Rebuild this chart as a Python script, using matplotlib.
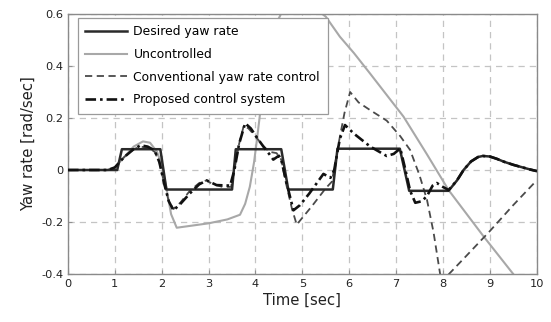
import matplotlib
matplotlib.use("Agg")
import matplotlib.pyplot as plt

# --- datos ---
t_des = [0, 1.05, 1.15, 1.97, 2.1, 3.5, 3.58, 4.55, 4.7, 5.65, 5.75, 7.08, 7.28,
         8.12, 8.3, 8.44, 8.6, 8.75, 8.85, 9.0, 9.15, 9.3, 9.5, 9.7, 9.86, 10.0]
y_des = [0, 0, 0.08, 0.08, -0.075, -0.075, 0.08, 0.08, -0.075, -0.075, 0.082, 0.082, -0.08,
         -0.08, -0.04, 0.0, 0.033, 0.05, 0.054, 0.052, 0.043, 0.032, 0.02, 0.01, 0.002, -0.004]

t_unc = [0, 0.85, 1.0, 1.2, 1.4, 1.6, 1.75, 1.9, 2.0, 2.1, 2.2, 2.32, 2.6, 3.0, 3.4, 3.67,
         3.78, 3.88, 3.97, 4.03, 4.1, 4.2, 4.35, 4.6, 4.9, 5.2, 5.5, 5.8, 6.1, 6.45,
         7.16, 7.66, 8.12, 8.87, 9.5, 9.7]
y_unc = [0, 0, 0.01, 0.05, 0.09, 0.11, 0.105, 0.07, 0.02, -0.07, -0.17, -0.222, -0.215, -0.205,
         -0.19, -0.172, -0.13, -0.064, 0.03, 0.115, 0.22, 0.38, 0.53, 0.62, 0.645, 0.63,
         0.59, 0.513, 0.45, 0.37, 0.205, 0.06, -0.077, -0.256, -0.4, -0.45]

t_conv = [0, 0.85, 1.0, 1.2, 1.4, 1.55, 1.7, 1.85, 1.95, 2.05, 2.15, 2.25, 2.4, 2.6, 2.8,
          2.95, 3.1, 3.3, 3.48, 3.55, 3.65, 3.75, 3.85, 4.0, 4.15, 4.3, 4.45, 4.55, 4.65,
          4.78, 4.88, 5.2, 5.5, 5.63, 5.75, 5.9, 6.02, 6.2, 6.45, 6.8, 7.09, 7.3, 7.5,
          7.66, 7.8, 7.94, 7.97, 8.5, 9.0, 9.5, 10.0]
y_conv = [0, 0, 0.01, 0.05, 0.08, 0.09, 0.085, 0.07, 0.03, -0.05, -0.12, -0.15, -0.125, -0.08,
          -0.05, -0.04, -0.055, -0.065, -0.065, 0.0, 0.1, 0.17, 0.16, 0.13, 0.095, 0.07,
          0.065, 0.04, -0.05, -0.15, -0.21, -0.14, -0.07, -0.045, 0.08, 0.22, 0.3, 0.26,
          0.23, 0.19, 0.13, 0.077, -0.02, -0.115, -0.24, -0.4, -0.43, -0.33, -0.235,
          -0.135, -0.04]

t_prop = [0, 0.85, 1.0, 1.2, 1.4, 1.55, 1.7, 1.85, 1.95, 2.05, 2.15, 2.25, 2.4, 2.6, 2.8,
          2.96, 3.17, 3.46, 3.55, 3.65, 3.78, 3.9, 4.05, 4.17, 4.3, 4.38, 4.5, 4.55, 4.65,
          4.81, 4.95, 5.15, 5.35, 5.45, 5.6, 5.68, 5.8, 5.91, 6.1, 6.45, 6.8, 6.95, 7.09,
          7.2, 7.3, 7.41, 7.55, 7.66, 7.78, 7.87, 8.0, 8.12, 8.3, 8.44, 8.6, 8.75, 8.85,
          9.0, 9.15, 9.3, 9.5, 9.7, 9.86, 10.0]
y_prop = [0, 0, 0.01, 0.05, 0.08, 0.095, 0.09, 0.075, 0.03, -0.05, -0.12, -0.155, -0.13,
          -0.09, -0.055, -0.04, -0.058, -0.06, 0.0, 0.1, 0.18, 0.16, 0.12, 0.09, 0.06, 0.04,
          0.055, 0.04, -0.04, -0.155, -0.135, -0.09, -0.04, -0.015, -0.03, 0.0, 0.12, 0.173,
          0.14, 0.09, 0.054, 0.062, 0.083, 0.0, -0.08, -0.126, -0.12, -0.1, -0.06, -0.05,
          -0.065, -0.077, -0.04, 0.0, 0.033, 0.05, 0.054, 0.052, 0.043, 0.032, 0.02, 0.01,
          0.002, -0.004]

series = ["Desired yaw rate", "Uncontrolled", "Conventional yaw rate control",
          "Proposed control system"]
x_ticks = list(range(0, 11))
y_ticks = [-0.4, -0.2, 0, 0.2, 0.4, 0.6]
y_ticklabels = ["-0.4", "-0.2", "0", "0.2", "0.4", "0.6"]

# --- figura ---
fig = plt.figure(figsize=(5.51, 3.22), dpi=100)
ax = fig.add_axes([0.1234, 0.149, 0.8506, 0.8075])

ax.plot(t_des, y_des, color="#2a2a2a", lw=1.8, ls="-", label=series[0], zorder=3)
ax.plot(t_unc, y_unc, color="#a8a8a8", lw=1.5, ls="-", label=series[1], zorder=2)
ax.plot(t_conv, y_conv, color="#4a4a4a", lw=1.3, ls=(0, (4, 2.5)), label=series[2], zorder=2)
ax.plot(t_prop, y_prop, color="#111111", lw=1.9, ls=(0, (4, 1.5, 1, 1.5)), label=series[3], zorder=4)

ax.set_xlim(0, 10)
ax.set_ylim(-0.4, 0.6)
ax.set_xticks(x_ticks)
ax.set_yticks(y_ticks)
ax.set_yticklabels(y_ticklabels)
ax.grid(True, color="#c4c4c4", ls=(0, (5, 4)), lw=0.9)
ax.tick_params(direction="in", length=3, color="#909090", labelsize=8.2, labelcolor="#222222")
for s in ax.spines.values():
    s.set_color("#8a8a8a")
    s.set_linewidth(1.0)

ax.set_xlabel("Time [sec]", fontsize=10.7, color="#222222", labelpad=3)
ax.set_ylabel("Yaw rate [rad/sec]", fontsize=10.7, color="#222222", labelpad=4)

leg = ax.legend(loc="upper left", bbox_to_anchor=(0.021, 0.985), borderaxespad=0,
                fontsize=8.9, handlelength=3.4, labelspacing=0.78, borderpad=0.6,
                handletextpad=0.5, fancybox=False, framealpha=1.0, edgecolor="#9a9a9a")
leg.get_frame().set_linewidth(0.9)

fig.savefig("out.png", dpi=100)
